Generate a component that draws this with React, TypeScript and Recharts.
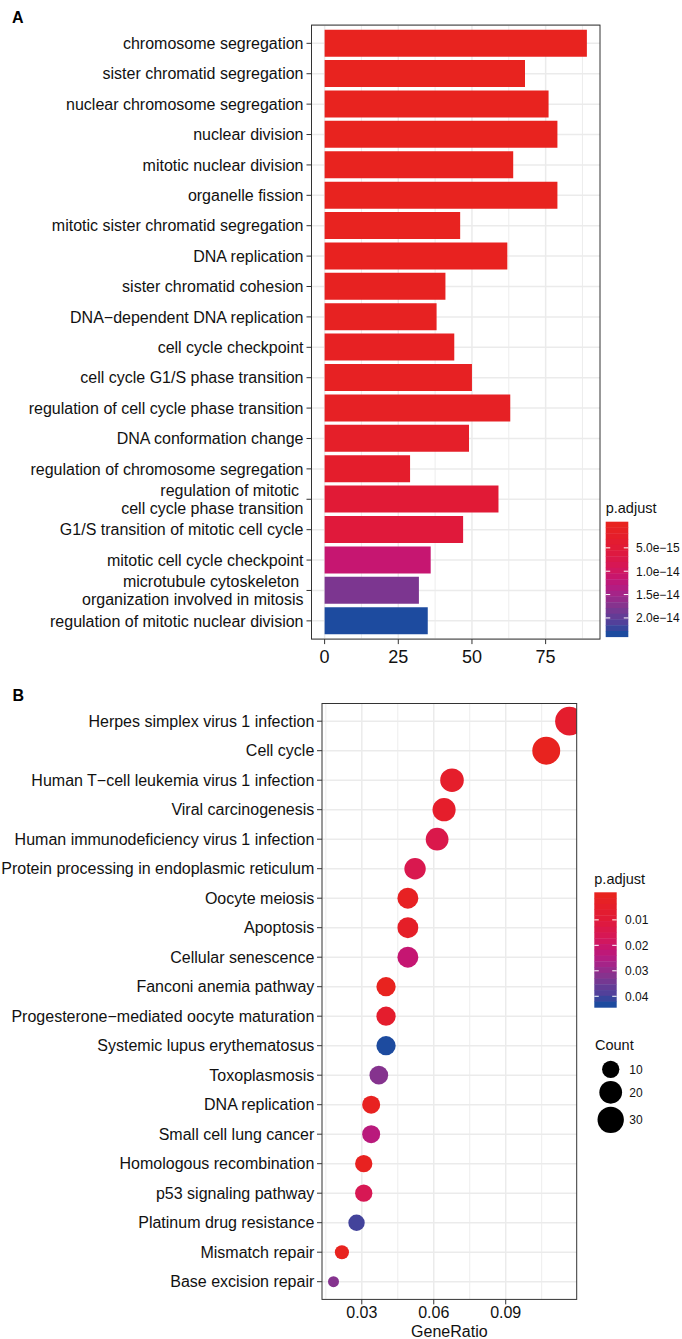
import { BarChart, Bar, Cell, XAxis, YAxis, CartesianGrid, ScatterChart, Scatter } from 'recharts'

// ---- panel A: GO terms (bar) ----
const termsA = [
  'chromosome segregation',
  'sister chromatid segregation',
  'nuclear chromosome segregation',
  'nuclear division',
  'mitotic nuclear division',
  'organelle fission',
  'mitotic sister chromatid segregation',
  'DNA replication',
  'sister chromatid cohesion',
  'DNA\u2212dependent DNA replication',
  'cell cycle checkpoint',
  'cell cycle G1/S phase transition',
  'regulation of cell cycle phase transition',
  'DNA conformation change',
  'regulation of chromosome segregation',
  'regulation of mitotic\ncell cycle phase transition',
  'G1/S transition of mitotic cell cycle',
  'mitotic cell cycle checkpoint',
  'microtubule cytoskeleton\norganization involved in mitosis',
  'regulation of mitotic nuclear division',
]
const countsA = [89, 68, 76, 79, 64, 79, 46, 62, 41, 38, 44, 50, 63, 49, 29, 59, 47, 36, 32, 35]
const padjA = [
  2.0e-17, 2.5e-17, 3.0e-17, 5.0e-17, 8.0e-17, 1.2e-16, 2.0e-16, 3.0e-16, 4.5e-16, 6.0e-16,
  8.0e-16, 1.0e-15, 1.3e-15, 2.2e-15, 3.0e-15, 5.0e-15, 5.5e-15, 1.15e-14, 1.8e-14, 2.34e-14,
]
const xTicksA = [0, 25, 50, 75]
const xMinorA = [12.5, 37.5, 62.5, 87.5]
const padjTicksA = [5e-15, 1e-14, 1.5e-14, 2e-14]
const padjLabelsA = ['5.0e\u221215', '1.0e\u221214', '1.5e\u221214', '2.0e\u221214']

// ---- panel B: KEGG pathways (dot) ----
const termsB = [
  'Herpes simplex virus 1 infection',
  'Cell cycle',
  'Human T\u2212cell leukemia virus 1 infection',
  'Viral carcinogenesis',
  'Human immunodeficiency virus 1 infection',
  'Protein processing in endoplasmic reticulum',
  'Oocyte meiosis',
  'Apoptosis',
  'Cellular senescence',
  'Fanconi anemia pathway',
  'Progesterone\u2212mediated oocyte maturation',
  'Systemic lupus erythematosus',
  'Toxoplasmosis',
  'DNA replication',
  'Small cell lung cancer',
  'Homologous recombination',
  'p53 signaling pathway',
  'Platinum drug resistance',
  'Mismatch repair',
  'Base excision repair',
]
const geneRatioB = [
  0.1166, 0.1069, 0.0676, 0.0643, 0.0614, 0.0522, 0.0492, 0.0492, 0.0492, 0.0401,
  0.0401, 0.0401, 0.0371, 0.0339, 0.0339, 0.0308, 0.0308, 0.0278, 0.0217, 0.0182,
]
const countB = [38, 35, 22, 21, 20, 17, 16, 16, 16, 13, 13, 13, 12, 11, 11, 10, 10, 9, 7, 6]
const padjB = [
  0.006, 0.0003, 0.005, 0.005, 0.014, 0.015, 0.002, 0.004, 0.0216, 0.0005,
  0.006, 0.0432, 0.032, 0.001, 0.0238, 0.0008, 0.016, 0.04, 0.0004, 0.032,
]
const xDomainB = [0.0134, 0.1196]
const xTicksB = [0.03, 0.06, 0.09]
const xMinorB = [0.015, 0.045, 0.075, 0.105]
const padjTicksB = [0.01, 0.02, 0.03, 0.04]
const countLegend = [10, 20, 30]

// ---- layout ----
const W = 682
const A_H = 670
const A_TOP = 25.1
const A_LEFT = 311.5
const A_RIGHT = 600
const A_XH = 30.9
const B_OFF = 670
const B_H = 669
const B_TOP = 33.5
const B_LEFT = 322
const B_RIGHT = 576.7
const B_XH = 39.6

const TEXT = '#111'
const GRID = '#EBEBEB'
const BORDER = '#333'

// ggplot-like 5% continuous expansion
const expand = (lo: number, hi: number) => {
  const d = (hi - lo) * 0.05
  return [lo - d, hi + d]
}

// red -> blue gradient as it appears in the figure
const stopT = [0, 0.2, 0.4, 0.5, 0.6, 0.75, 0.9, 1]
const stopC = ['#E8231F', '#E21A34', '#D5175A', '#C41673', '#AE1F86', '#82358F', '#50409A', '#1D4B9F']
const hex = (h: string) => [1, 3, 5].map((i) => parseInt(h.slice(i, i + 2), 16))
function gradient(t: number) {
  const u = Math.max(0, Math.min(1, t))
  let i = 0
  while (i < stopT.length - 2 && u > stopT[i + 1]) i++
  const f = (u - stopT[i]) / (stopT[i + 1] - stopT[i])
  const a = hex(stopC[i])
  const b = hex(stopC[i + 1])
  const c = a.map((v, k) => Math.round(v + (b[k] - v) * f))
  return `rgb(${c[0]},${c[1]},${c[2]})`
}
const makeScale = (vals: number[]) => {
  const lo = Math.min(...vals)
  const hi = Math.max(...vals)
  return { lo, hi, t: (v: number) => (v - lo) / (hi - lo) }
}
const scaleA = makeScale(padjA)
const scaleB = makeScale(padjB)

const cMin = Math.min(...countB)
const cMax = Math.max(...countB)
const radius = (c: number) => (3.55 * (1 + 5 * Math.sqrt((c - cMin) / (cMax - cMin))) + 7.45) / 2

const barData = termsA.map((term, i) => ({ term, count: countsA[i], padj: padjA[i] }))
const dotData = termsB.map((term, i) => ({ term, rank: i + 1, ratio: geneRatioB[i], count: countB[i], padj: padjB[i] }))
const ranksB = dotData.map((d) => d.rank)

const domainA = expand(Math.min(0, ...countsA), Math.max(...countsA))

function TermTick(props: any) {
  const { x, y, payload, labels } = props
  const raw = labels ? labels[payload.value - 1] : payload.value
  const lines = String(raw ?? '').split('\n')
  const lh = 18.5
  const y0 = y - ((lines.length - 1) * lh) / 2
  return (
    <text x={x} y={y0} textAnchor="end" fontSize={16} fill={TEXT}>
      {lines.map((l, i) => (
        <tspan key={i} x={x} y={y0 + i * lh} dy="0.36em">
          {i < lines.length - 1 ? l + '\u00A0' : l}
        </tspan>
      ))}
    </text>
  )
}

function ColorBar({ x, y, w, h, scale, ticks, labels, labelX }: any) {
  const nbin = 20
  const bins = Array.from({ length: nbin }, (_, i) => i / (nbin - 1))
  const tickY = (v: number) => y + ((0.5 + scale.t(v) * (nbin - 1)) / nbin) * h
  return (
    <g>
      {bins.map((t, i) => (
        <rect key={i} x={x} y={y + (i * h) / nbin} width={w} height={h / nbin + 0.4} fill={gradient(t)} />
      ))}
      {ticks.map((v: number, i: number) => (
        <g key={i}>
          <line x1={x} x2={x + w / 5} y1={tickY(v)} y2={tickY(v)} stroke="#fff" strokeWidth={1} />
          <line x1={x + w - w / 5} x2={x + w} y1={tickY(v)} y2={tickY(v)} stroke="#fff" strokeWidth={1} />
          <text x={labelX} y={tickY(v)} dy="0.36em" fontSize={12} fill={TEXT}>
            {labels[i]}
          </text>
        </g>
      ))}
    </g>
  )
}

export default function App() {
  const countKeyY: number[] = []
  countLegend.reduce((acc, c, i) => {
    const hgt = radius(c) * 2 + 3
    const cy = i === 0 ? 1069.3 : acc + hgt / 2
    countKeyY.push(cy)
    return cy + hgt / 2
  }, 0)

  return (
    <div
      style={{
        position: 'absolute',
        left: 0,
        top: 0,
        width: W,
        height: 1339,
        background: '#fff',
        fontFamily: '"Liberation Sans", Arial, sans-serif',
      }}
    >
      <div style={{ position: 'absolute', left: 0, top: 0 }}>
        <BarChart
          width={W}
          height={A_H}
          data={barData}
          layout="vertical"
          barCategoryGap="5%"
          margin={{ top: A_TOP, right: W - A_RIGHT, bottom: 0, left: 0 }}
        >
          <CartesianGrid stroke={GRID} strokeWidth={0.9} horizontal={false} verticalValues={xMinorA} />
          <CartesianGrid stroke={GRID} strokeWidth={1.5} verticalValues={xTicksA} />
          <XAxis
            type="number"
            domain={domainA}
            allowDataOverflow
            ticks={xTicksA}
            height={A_XH}
            axisLine={false}
            tickLine={{ stroke: BORDER }}
            tickSize={5}
            tickMargin={6}
            tick={{ fontSize: 18, fill: TEXT }}
          />
          <YAxis
            type="category"
            dataKey="term"
            width={A_LEFT}
            interval={0}
            axisLine={false}
            tickLine={{ stroke: BORDER }}
            tickSize={5}
            tickMargin={3}
            padding={{ top: 3.04, bottom: 3.04 }}
            tick={<TermTick />}
          />
          <Bar dataKey="count" isAnimationActive={false}>
            {barData.map((d, i) => (
              <Cell key={i} fill={gradient(scaleA.t(d.padj))} />
            ))}
          </Bar>
        </BarChart>
      </div>

      <div style={{ position: 'absolute', left: 0, top: B_OFF }}>
        <ScatterChart width={W} height={B_H} margin={{ top: B_TOP, right: W - B_RIGHT, bottom: 0, left: 0 }}>
          <CartesianGrid stroke={GRID} strokeWidth={0.9} horizontal={false} verticalValues={xMinorB} />
          <CartesianGrid stroke={GRID} strokeWidth={1.5} verticalValues={xTicksB} horizontalValues={ranksB} />
          <XAxis
            type="number"
            dataKey="ratio"
            domain={xDomainB}
            allowDataOverflow
            ticks={xTicksB}
            height={B_XH}
            axisLine={false}
            tickLine={{ stroke: BORDER }}
            tickSize={5}
            tickMargin={2}
            tick={{ fontSize: 16, fill: TEXT }}
            label={{ value: 'GeneRatio', position: 'insideBottom', offset: 2.5, fontSize: 16, fill: TEXT }}
          />
          <YAxis
            type="number"
            dataKey="rank"
            domain={[0.4, termsB.length + 0.6]}
            reversed
            allowDataOverflow
            ticks={ranksB}
            interval={0}
            width={B_LEFT}
            axisLine={false}
            tickLine={{ stroke: BORDER }}
            tickSize={5}
            tickMargin={2.7}
            tick={<TermTick labels={termsB} />}
          />
          <Scatter
            data={dotData}
            isAnimationActive={false}
            shape={(p: any) => (
              <circle
                cx={p.cx}
                cy={p.cy}
                r={radius(p.payload.count)}
                fill={gradient(scaleB.t(p.payload.padj))}
                clipPath="url(#dotPanelClip)"
              />
            )}
          />
        </ScatterChart>
      </div>

      <svg width={W} height={1339} style={{ position: 'absolute', left: 0, top: 0, pointerEvents: 'none' }}>
        <defs>
          <clipPath id="dotPanelClip" clipPathUnits="userSpaceOnUse">
            <rect x={B_LEFT} y={B_TOP} width={B_RIGHT - B_LEFT} height={B_H - B_TOP - B_XH} />
          </clipPath>
        </defs>
        <text x={12} y={22.7} fontSize={16} fontWeight="bold" fill="#000">A</text>
        <text x={12.5} y={700.7} fontSize={16} fontWeight="bold" fill="#000">B</text>

        <rect x={A_LEFT} y={A_TOP} width={A_RIGHT - A_LEFT} height={A_H - A_TOP - A_XH} fill="none" stroke={BORDER} strokeWidth={1} />
        <rect
          x={B_LEFT}
          y={B_OFF + B_TOP}
          width={B_RIGHT - B_LEFT}
          height={B_H - B_TOP - B_XH}
          fill="none"
          stroke={BORDER}
          strokeWidth={1}
        />

        <text x={605.7} y={513} fontSize={14.5} fill={TEXT}>p.adjust</text>
        <ColorBar x={605.7} y={521.7} w={22.6} h={115} scale={scaleA} ticks={padjTicksA} labels={padjLabelsA} labelX={636} />

        <text x={594.3} y={884.3} fontSize={14.5} fill={TEXT}>p.adjust</text>
        <ColorBar
          x={594.3}
          y={892.3}
          w={22.4}
          h={115}
          scale={scaleB}
          ticks={padjTicksB}
          labels={padjTicksB.map((v) => v.toFixed(2))}
          labelX={625}
        />

        <text x={595} y={1050} fontSize={14.5} fill={TEXT}>Count</text>
        {countLegend.map((c, i) => (
          <g key={c}>
            <circle cx={610.7} cy={countKeyY[i]} r={radius(c)} fill="#000" />
            <text x={629.3} y={countKeyY[i]} dy="0.36em" fontSize={12} fill={TEXT}>
              {c}
            </text>
          </g>
        ))}
      </svg>
    </div>
  )
}
